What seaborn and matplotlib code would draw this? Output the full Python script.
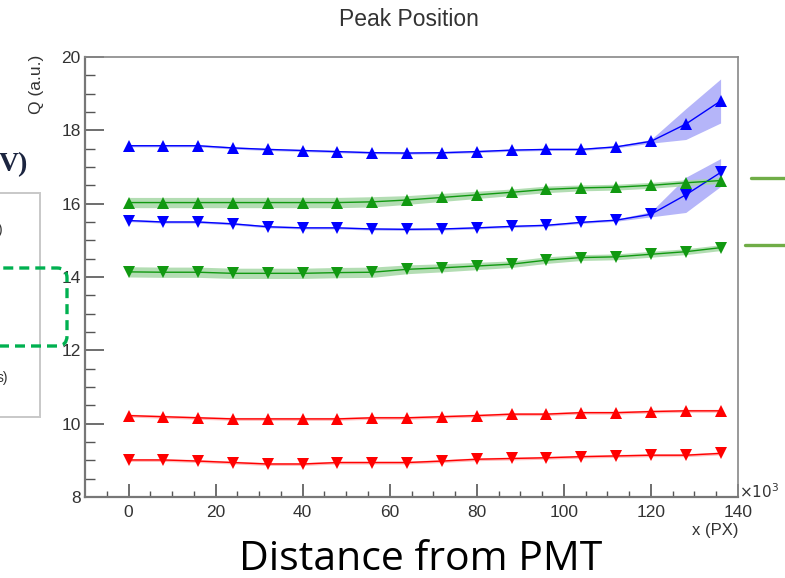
import numpy as np
import pandas as pd
import matplotlib.pyplot as plt
import seaborn as sns
from matplotlib.patches import FancyBboxPatch, Rectangle
from matplotlib.lines import Line2D
from matplotlib.transforms import IdentityTransform

# positions along the bar (x 10^3 px)
x_pos = [0, 8, 16, 24, 32, 40, 48, 56, 64, 72, 80, 88, 96, 104, 112, 120, 128, 136]

# peak positions Q (a.u.)
blue_up = [17.58, 17.58, 17.58, 17.52, 17.48, 17.45, 17.42, 17.39, 17.38, 17.39,
           17.42, 17.46, 17.48, 17.48, 17.55, 17.70, 18.17, 18.80]
blue_up_err = [0.03] * 15 + [0.05, 0.42, 0.60]

blue_down = [15.54, 15.50, 15.50, 15.45, 15.37, 15.34, 15.34, 15.31, 15.30, 15.31,
             15.34, 15.38, 15.41, 15.49, 15.55, 15.71, 16.24, 16.85]
blue_down_err = [0.03] * 15 + [0.07, 0.48, 0.38]

green_up = [16.03, 16.03, 16.03, 16.03, 16.03, 16.03, 16.03, 16.05, 16.10, 16.17,
            16.24, 16.31, 16.39, 16.43, 16.45, 16.50, 16.57, 16.63]
green_up_err = [0.14] * 8 + [0.12, 0.11, 0.10, 0.09, 0.09, 0.08, 0.08, 0.08, 0.08, 0.08]

green_down = [14.14, 14.13, 14.13, 14.10, 14.10, 14.10, 14.12, 14.13, 14.21, 14.25,
              14.30, 14.35, 14.46, 14.53, 14.55, 14.62, 14.69, 14.80]
green_down_err = [0.14] * 8 + [0.12, 0.11, 0.10, 0.09, 0.09, 0.08, 0.08, 0.08, 0.08, 0.08]

red_up = [10.22, 10.19, 10.16, 10.13, 10.13, 10.13, 10.13, 10.16, 10.16, 10.19,
          10.22, 10.26, 10.26, 10.30, 10.30, 10.33, 10.35, 10.35]
red_down = [9.01, 9.01, 8.98, 8.94, 8.90, 8.90, 8.94, 8.94, 8.94, 8.98,
            9.03, 9.05, 9.07, 9.10, 9.12, 9.14, 9.14, 9.19]
red_err = [0.04] * 18

series = {
    "blue_up": (blue_up, blue_up_err),
    "blue_down": (blue_down, blue_down_err),
    "green_up": (green_up, green_up_err),
    "green_down": (green_down, green_down_err),
    "red_up": (red_up, red_err),
    "red_down": (red_down, red_err),
}
line_colors = {"blue": "#0000ff", "green": "#119911", "red": "#ff0000"}
band_colors = {"blue": "#a8a8f8", "green": "#a6d8a6", "red": "#ffb0b0"}

rows = []
for name, (vals, errs) in series.items():
    for x, v, e in zip(x_pos, vals, errs):
        rows.append({"x": x, "Q": v, "err": e, "series": name})
df = pd.DataFrame(rows)

sns.set_theme(style="white")
plt.rcParams["font.family"] = ["Liberation Sans", "DejaVu Sans"]

fig = plt.figure(figsize=(7.85, 5.78), dpi=100)
ax = fig.add_axes([85 / 785, 1 - 497 / 578, (738 - 85) / 785, (497 - 57) / 578])

# error bands first
for name, grp in df.groupby("series"):
    col = band_colors[name.split("_")[0]]
    ax.fill_between(grp["x"], grp["Q"] - grp["err"], grp["Q"] + grp["err"],
                    color=col, alpha=0.85, lw=0, zorder=1)

palette = {k: line_colors[k.split("_")[0]] for k in series}
markers = {k: ("^" if k.endswith("up") else "v") for k in series}
sns.lineplot(data=df, x="x", y="Q", hue="series", style="series",
             palette=palette, markers=markers, dashes=False, markersize=8,
             markeredgewidth=0, linewidth=1.0, legend=False, ax=ax, zorder=3)

ax.set_xlim(-10, 140)
ax.set_ylim(8, 20)
ax.set_xticks(np.arange(0, 141, 20))
ax.set_xticks(np.arange(-5, 140, 5), minor=True)
ax.set_yticks(np.arange(8, 21, 2))
ax.set_yticks(np.arange(8, 20.1, 0.5), minor=True)
ax.set_xlabel("")
ax.set_ylabel("")
ax.tick_params(axis="both", which="both", direction="in", colors="#555555",
               labelcolor="#333333", labelsize=12.5)
ax.tick_params(axis="y", which="major", length=14, width=1.2, pad=3)
ax.tick_params(axis="y", which="minor", length=7, width=1.0)
ax.tick_params(axis="x", which="major", length=9.5, width=1.2, pad=6)
ax.tick_params(axis="x", which="minor", length=4.5, width=1.0)
ax.tick_params(left=True, bottom=True, which="both")
for s in ["left", "bottom"]:
    ax.spines[s].set_color("#777777")
    ax.spines[s].set_linewidth(1.6)
for s in ["top", "right"]:
    ax.spines[s].set_color("#888888")
    ax.spines[s].set_linewidth(1.2)

fig.text(409 / 785, 1 - 19 / 578, "Peak Position", ha="center", va="center",
         fontsize=16.5, color="#333333")
fig.text(37 / 785, 1 - 55 / 578, "Q (a.u.)", rotation=90, ha="center", va="top",
         fontsize=12.5, color="#333333")
fig.text(738 / 785, 1 - 530 / 578, "x (PX)", ha="right", va="center",
         fontsize=12, color="#333333")
fig.text(739 / 785, 1 - 492 / 578, r"$\times10^{3}$", ha="left", va="center",
         fontsize=11, color="#333333")
fig.text(421 / 785, 1 - 570 / 578, "Distance from PMT", ha="center", va="baseline",
         fontsize=29.5, color="black", family=["Open Sans", "DejaVu Sans"])

# slide overlay pieces around the chart
fig.text(28 / 785, 1 - 165 / 578, "V)", ha="right", va="center", fontsize=20,
         fontweight="bold", color="#1c2540", family=["Liberation Serif", "DejaVu Serif"])
fig.text(3 / 785, 1 - 230 / 578, ")", ha="right", va="center", fontsize=10, color="#333333")
fig.text(8 / 785, 1 - 378 / 578, "s)", ha="right", va="center", fontsize=10, color="#333333")
fig.patches.append(Rectangle((-20, 578 - 417), 60, 224, transform=IdentityTransform(),
                             fill=False, edgecolor="#c8c8c8", lw=1.4, figure=fig))
fig.patches.append(FancyBboxPatch((-60, 578 - 346), 127, 78,
                                  boxstyle="round,pad=0,rounding_size=10",
                                  transform=IdentityTransform(), fill=False,
                                  edgecolor="#00b050", lw=2.4, linestyle=(0, (3, 1.8)),
                                  figure=fig))
fig.lines.append(Line2D([751, 790], [578 - 178, 578 - 178], transform=IdentityTransform(),
                        color="#70ad47", lw=2.4, figure=fig))
fig.lines.append(Line2D([745, 790], [578 - 245, 578 - 245], transform=IdentityTransform(),
                        color="#70ad47", lw=2.4, figure=fig))

fig.savefig("out.png", dpi=100)
